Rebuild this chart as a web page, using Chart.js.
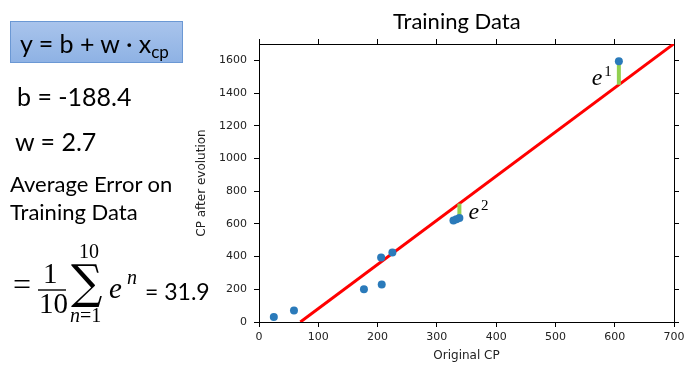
<!DOCTYPE html>
<html>
<head>
<meta charset="utf-8">
<script src="https://cdn.jsdelivr.net/npm/chart.js@4/dist/chart.umd.min.js"></script>
<style>
  html, body { margin: 0; padding: 0; background: #fff; }
  #wrap { position: relative; width: 690px; height: 376px; }
  #c { position: absolute; left: 0; top: 0; }
  #ov { position: absolute; left: 0; top: 0; pointer-events: none; }
</style>
</head>
<body>
<div id="wrap">
  <canvas id="c" width="690" height="376"></canvas>
  <svg id="ov" width="690" height="376" xmlns="http://www.w3.org/2000/svg">
    <defs>
      <linearGradient id="bg" x1="0" y1="0" x2="0" y2="1">
        <stop offset="0" stop-color="#a9c4ec"/>
        <stop offset="1" stop-color="#8eb2e4"/>
      </linearGradient>
    </defs>
    <rect x="10.5" y="21.5" width="172" height="41" fill="url(#bg)" stroke="#6b98d4" stroke-width="1"/>
    <text x="20" y="53" font-family="Lato" font-size="25" fill="#000">y = b + w · x<tspan font-size="17" dy="5">cp</tspan></text>
    <text x="17" y="106" font-family="Lato" font-size="25" fill="#000">b = -188.4</text>
    <text x="15" y="151" font-family="Lato" font-size="25" fill="#000">w = 2.7</text>
    <text x="10" y="192" font-family="Lato" font-size="22" fill="#000">Average Error on</text>
    <text x="10" y="220" font-family="Lato" font-size="22" fill="#000">Training Data</text>
    <text x="13" y="295" font-family="Liberation Serif" font-size="32" fill="#000">=</text>
    <text x="43" y="283" font-family="Liberation Serif" font-size="29" fill="#000">1</text>
    <line x1="38" y1="290" x2="66" y2="290" stroke="#000" stroke-width="1.4"/>
    <text x="39" y="313" font-family="Liberation Serif" font-size="29" fill="#000">10</text>
    <text transform="translate(71,298) scale(1,1.07)" x="0" y="0" font-family="DejaVu Serif" font-size="44" fill="#000">∑</text>
    <text x="79" y="258" font-family="Liberation Serif" font-size="20" fill="#000">10</text>
    <text x="70" y="322" font-family="Liberation Serif" font-size="20" fill="#000"><tspan font-style="italic">n</tspan>=1</text>
    <text x="109" y="298" font-family="Liberation Serif" font-style="italic" font-size="29" fill="#000">e</text>
    <text x="127" y="284" font-family="Liberation Serif" font-style="italic" font-size="20" fill="#000">n</text>
    <text x="145" y="300" font-family="Lato" font-size="23" fill="#000">= 31.9</text>
    <text x="393" y="29" font-family="Lato" font-size="22" fill="#000">Training Data</text>
  </svg>
</div>
<script>
// ---- data ----
const cpOriginal = [25, 59, 177, 206, 207, 225, 328, 333, 338, 607];
const cpAfter    = [30, 70, 200, 395, 230, 425, 620, 628, 636, 1595];
const modelB = -188.4;
const modelW = 2.7;
const errIndex = [9, 8];           // points whose error is highlighted
const errLabels = ['1', '2'];      // superscripts e^1, e^2
const xTicks = [0, 100, 200, 300, 400, 500, 600, 700];
const yTicks = [0, 200, 400, 600, 800, 1000, 1200, 1400, 1600];
const xRange = [0, 700];
const yRange = [0, 1700];

const predict = x => modelB + modelW * x;

const points = cpOriginal.map((x, i) => ({ x: x, y: cpAfter[i] }));
const lineData = [{ x: -modelB / modelW, y: 0 }, { x: xRange[1], y: predict(xRange[1]) }];

const errDatasets = errIndex.map(i => ({
  type: 'line',
  data: [{ x: cpOriginal[i], y: cpAfter[i] }, { x: cpOriginal[i], y: predict(cpOriginal[i]) }],
  borderColor: '#92d050',
  borderWidth: 4,
  pointRadius: 0,
  order: 1
}));

const tickFont = { family: 'DejaVu Sans', size: 11 };
const titleFont = { family: 'DejaVu Sans', size: 12 };
const tickColor = '#222';

function fixedAxis(extra) {
  return Object.assign({
    type: 'linear',
    border: { display: true, color: '#000', width: 1 },
    grid: { drawOnChartArea: false, drawTicks: true, tickLength: 5, color: '#000' },
  }, extra);
}

const eLabelPlugin = {
  id: 'eLabels',
  afterDatasetsDraw(chart) {
    const ctx = chart.ctx;
    const xs = chart.scales.x, ys = chart.scales.y;
    ctx.save();
    ctx.fillStyle = '#000';
    ctx.textBaseline = 'alphabetic';
    errIndex.forEach((i, k) => {
      const px = xs.getPixelForValue(cpOriginal[i]);
      const pPoint = ys.getPixelForValue(cpAfter[i]);
      const pLine = ys.getPixelForValue(predict(cpOriginal[i]));
      const mid = (pPoint + pLine) / 2;
      ctx.font = 'italic 24px "Liberation Serif"';
      const wE = ctx.measureText('e').width;
      ctx.font = '15px "Liberation Serif"';
      const wS = ctx.measureText(errLabels[k]).width;
      let left, base;
      if (pPoint < pLine) {        // point above line: label on the left
        left = px - 7 - (wE + 2 + wS);
        base = mid + 12;
      } else {
        left = px + 9;
        base = mid + 8;
      }
      ctx.font = 'italic 24px "Liberation Serif"';
      ctx.fillText('e', left, base);
      ctx.font = '15px "Liberation Serif"';
      ctx.fillText(errLabels[k], left + wE + 2, base - 9);
    });
    ctx.restore();
  }
};

new Chart(document.getElementById('c'), {
  type: 'scatter',
  data: {
    datasets: [
      {
        type: 'scatter',
        data: points,
        backgroundColor: '#2a7aba',
        borderWidth: 0,
        pointRadius: 4,
        order: 0
      },
      ...errDatasets,
      {
        type: 'line',
        data: lineData,
        borderColor: '#ff0000',
        borderWidth: 3,
        pointRadius: 0,
        order: 2
      }
    ]
  },
  options: {
    responsive: false,
    animation: false,
    events: [],
    layout: { padding: { left: 195, right: 8, top: 36, bottom: 0 } },
    plugins: { legend: { display: false }, tooltip: { enabled: false }, title: { display: false } },
    scales: {
      x: fixedAxis({
        position: 'bottom',
        min: xRange[0], max: xRange[1],
        afterBuildTicks: s => { s.ticks = xTicks.map(v => ({ value: v })); },
        ticks: { font: tickFont, color: tickColor, padding: 4, maxRotation: 0, callback: v => String(v) },
        title: { display: true, text: 'Original CP', font: titleFont, color: tickColor, padding: { top: 0, bottom: 13 } },
        afterFit: s => { s.height = 54; }
      }),
      x2: fixedAxis({
        position: 'top',
        min: xRange[0], max: xRange[1],
        afterBuildTicks: s => { s.ticks = xTicks.map(v => ({ value: v })); },
        ticks: { display: false },
        afterFit: s => { s.height = 8; }
      }),
      y: fixedAxis({
        position: 'left',
        min: yRange[0], max: yRange[1],
        afterBuildTicks: s => { s.ticks = yTicks.map(v => ({ value: v })); },
        ticks: { font: tickFont, color: tickColor, padding: 7, callback: v => String(v) },
        title: { display: true, text: 'CP after evolution', font: titleFont, color: tickColor, padding: { top: 0, bottom: 0 } },
        afterFit: s => { s.width = 64; }
      }),
      y2: fixedAxis({
        position: 'right',
        min: yRange[0], max: yRange[1],
        afterBuildTicks: s => { s.ticks = yTicks.map(v => ({ value: v })); },
        ticks: { display: false },
        afterFit: s => { s.width = 8; }
      })
    }
  },
  plugins: [eLabelPlugin]
});
</script>
</body>
</html>
